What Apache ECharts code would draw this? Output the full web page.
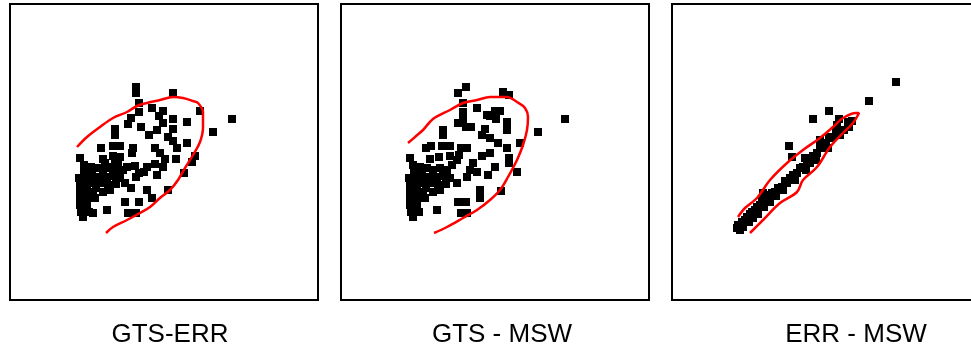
<!DOCTYPE html>
<html>
<head>
<meta charset="utf-8">
<script src="https://cdn.jsdelivr.net/npm/echarts@6/dist/echarts.min.js"></script>
<style>
  html, body { margin: 0; padding: 0; background: #fff; }
  #chart { width: 971px; height: 351px; }
</style>
</head>
<body>
<div id="chart"></div>
<script>
// Panel titles
const panelTitles = ['GTS-ERR', 'GTS - MSW', 'ERR - MSW'];

// GTS vs ERR observations
const gtsErrPoints = [
  [12.6,21.3],[12.6,20.7],[16.3,20.7],[12.9,19.7],[14.2,19.2],[15.3,18.9],[12.9,18.8],[19.0,18.9],
  [22.2,18.1],[12.1,18.2],[14.9,18.4],[16.3,18.1],[17.7,17.8],[11.8,17.6],[13.1,17.3],[15.3,17.7],
  [14.7,17.0],[16.3,17.1],[20.3,16.8],[10.5,17.1],[10.5,16.5],[13.9,16.5],[15.8,16.3],[16.3,15.9],
  [17.7,15.7],[16.7,15.2],[9.1,15.2],[10.3,15.4],[11.0,15.4],[12.3,15.2],[12.2,14.7],[14.5,15.2],
  [15.0,14.7],[15.5,14.1],[16.6,14.1],[18.5,14.4],[18.2,13.8],[7.0,14.2],[9.3,14.1],[10.3,14.4],
  [11.0,14.3],[10.5,13.7],[11.7,13.3],[12.5,13.4],[13.7,13.3],[14.5,13.6],[15.3,13.3],[13.4,12.8],
  [12.9,12.7],[14.7,12.5],[17.4,12.7],[12.6,12.3],[11.5,11.7],[12.1,11.2],[13.7,11.0],[15.8,11.0],
  [14.2,10.2],[11.5,9.8],[12.9,9.8],[9.7,9.0],[11.8,8.7],[12.6,8.7],
  [7.4,13.5],[8.1,13.3],[8.7,13.2],[9.3,13.0],[10.0,13.2],[10.7,13.0],[11.3,13.0],[10.2,13.3],
  [6.9,12.2],[7.5,12.3],[8.2,12.5],[8.9,12.3],[9.7,12.3],[10.3,12.4],[11.0,12.2],[7.0,11.5],
  [7.7,11.5],[8.3,11.7],[9.0,11.7],[9.8,11.5],[10.6,11.6],[7.0,10.8],[7.7,11.0],[8.3,10.8],
  [9.3,10.8],[7.0,10.2],[7.8,10.2],[8.5,10.2],[7.0,9.5],[7.7,9.5],[7.1,8.8],[7.9,8.8],
  [8.3,8.7],[7.3,8.3],[7.4,12.8],[8.6,11.2],[10.0,11.0],[7.4,9.8],[8.0,12.0],[9.5,13.7],[10.8,13.8]
];
const gtsErrContour = [
  [9.6,6.7],[10.3,7.3],[11.7,8.0],[13.0,8.7],[14.0,9.3],[15.0,10.2],[16.0,11.0],[16.8,12.0],
  [17.5,13.2],[18.3,14.5],[19.0,15.8],[19.3,17.3],[19.3,18.8],[18.8,19.7],[18.3,19.9],[17.3,20.2],
  [16.3,20.3],[15.0,20.0],[13.7,19.7],[12.7,19.4],[11.7,18.8],[10.3,18.2],[9.0,17.3],[7.7,16.3],[6.7,15.3]
];

// GTS vs MSW observations
const gtsMswPoints = [
  [12.5,21.3],[11.7,20.7],[16.2,20.8],[16.8,20.5],[12.2,19.7],[13.6,19.2],[12.2,18.8],[14.9,18.4],
  [15.4,18.9],[15.9,18.9],[15.5,18.1],[14.6,18.5],[16.6,17.8],[16.6,17.0],[22.4,18.1],[19.7,16.8],
  [11.7,17.7],[12.2,18.1],[12.5,17.3],[13.0,17.3],[10.2,17.0],[10.2,16.5],[14.4,17.1],[14.1,16.5],
  [14.9,16.2],[15.7,15.7],[17.9,15.7],[16.6,15.2],[9.0,15.4],[8.5,15.2],[10.1,15.4],[10.9,15.4],
  [12.0,15.2],[12.6,15.2],[11.8,14.5],[14.9,14.7],[14.1,14.4],[16.8,14.2],[16.8,13.7],[6.9,14.2],
  [8.9,14.1],[9.8,14.3],[10.9,14.4],[11.6,14.0],[13.2,13.7],[12.9,13.0],[13.6,12.8],[15.4,13.3],
  [17.6,12.8],[14.7,12.5],[12.6,12.3],[11.6,11.7],[13.9,11.0],[13.9,10.2],[16.0,10.9],[11.7,9.8],
  [12.5,9.8],[9.6,9.0],[12.0,8.7],[12.6,8.7],
  [7.2,13.5],[7.9,13.3],[8.6,13.2],[9.2,13.0],[9.9,13.2],[10.6,13.0],[6.8,12.2],[7.4,12.3],
  [8.1,12.5],[8.8,12.3],[9.6,12.3],[10.2,12.4],[10.9,12.2],[6.9,11.5],[7.6,11.5],[8.2,11.7],
  [8.9,11.7],[9.7,11.5],[10.5,11.6],[6.9,10.8],[7.6,11.0],[8.2,10.8],[9.2,10.8],[6.9,10.2],
  [7.7,10.2],[8.4,10.2],[6.9,9.5],[7.6,9.5],[7.0,8.8],[7.8,8.8],[7.2,8.3],[7.3,12.8],
  [8.5,11.2],[9.9,11.0],[11.1,13.5]
];
const gtsMswContour = [
  [9.3,6.7],[10.6,7.3],[12.2,8.2],[13.6,9.0],[14.9,10.0],[15.9,11.0],[16.7,12.3],[17.6,14.0],
  [18.2,15.5],[18.6,17.0],[18.7,18.3],[18.4,19.2],[17.6,19.8],[16.6,20.3],[14.9,20.3],[13.6,20.0],
  [12.2,19.7],[10.9,19.0],[9.2,18.1],[8.2,17.0],[7.4,16.3],[6.7,15.7]
];

// ERR vs MSW observations
const errMswPoints = [
  [22.4,21.8],[19.7,19.9],[15.7,18.9],[14.1,18.1],[16.7,18.1],[16.5,17.5],[17.7,17.3],[16.8,16.5],
  [15.7,16.3],[14.8,16.0],[11.7,15.4],[12.0,14.3],[15.1,15.3],[14.5,14.7],[13.3,14.2],[13.8,13.7],
  [13.1,13.3],[12.5,12.7],[11.8,12.2],[11.5,11.7],[11.0,11.3],[10.3,10.8],[9.6,10.5],[9.1,10.7],
  [9.0,10.0],[8.5,9.3],[8.0,8.8],[7.5,8.3],[7.0,7.8],[6.6,7.5],[6.5,7.2],
  [7.3,8.0],[7.8,8.6],[8.3,9.0],[8.8,9.5],[9.4,10.2],[10.0,10.7],[10.6,11.2],[11.3,11.9],
  [12.1,12.5],[12.8,13.2],[13.5,13.8],[14.1,14.4],[14.8,15.2],[15.4,15.7],[16.0,16.2],[16.4,16.8],
  [17.2,17.0],[6.8,7.0],[7.1,7.3],[7.7,7.8],[8.1,8.2],[8.6,8.6],[9.2,9.3],[9.8,9.8],
  [10.4,10.4],[11.1,11.0],[12.3,12.0],[13.4,13.0],[14.4,14.0],[15.6,15.2],[17.6,17.8],[18.0,17.9]
];
const errMswContour = [
  [7.8,6.7],[9.1,8.0],[10.8,9.7],[12.5,10.8],[13.1,12.0],[14.5,13.3],[15.8,15.3],[17.1,16.7],
  [18.1,17.7],[18.7,18.7],[18.4,18.7],[17.1,18.2],[16.1,17.3],[14.8,16.2],[13.1,15.0],[11.5,13.7],
  [9.8,12.0],[8.5,10.2],[7.3,9.2],[6.6,8.3]
];

// The third frame runs past the right edge of the canvas
const panels = [
  { points: gtsErrPoints, contour: gtsErrContour, left: 10,  titleX: 170 },
  { points: gtsMswPoints, contour: gtsMswContour, left: 341, titleX: 502 },
  { points: errMswPoints, contour: errMswContour, left: 672, titleX: 856 }
];

const grids = [], xAxes = [], yAxes = [], series = [], titles = [];
panels.forEach((p, i) => {
  grids.push({
    left: p.left, top: 4, width: 308, height: 296,
    outerBoundsMode: 'none', containLabel: false,
    show: true, borderColor: '#000', borderWidth: 2, backgroundColor: '#fff'
  });
  xAxes.push({ type: 'value', gridIndex: i, min: 0, max: 30.8, show: false, splitLine: { show: false } });
  yAxes.push({ type: 'value', gridIndex: i, min: 0, max: 29.6, show: false, splitLine: { show: false } });
  series.push({
    type: 'scatter', xAxisIndex: i, yAxisIndex: i,
    data: p.points, symbol: 'rect', symbolSize: 8,
    itemStyle: { color: '#000', opacity: 1 }, silent: true
  });
  series.push({
    type: 'line', xAxisIndex: i, yAxisIndex: i,
    data: p.contour, showSymbol: false, smooth: 0.35,
    lineStyle: { color: '#ff0000', width: 2.5 }, silent: true
  });
  titles.push({
    text: panelTitles[i], left: p.titleX, top: 322, textAlign: 'center', padding: 0,
    textStyle: { fontFamily: 'Liberation Sans, Arial, sans-serif', fontSize: 26, fontWeight: 'normal', color: '#000' }
  });
});

const chart = echarts.init(document.getElementById('chart'), null, { renderer: 'canvas' });
chart.setOption({
  animation: false,
  backgroundColor: '#fff',
  title: titles,
  grid: grids,
  xAxis: xAxes,
  yAxis: yAxes,
  series: series
});
</script>
</body>
</html>
